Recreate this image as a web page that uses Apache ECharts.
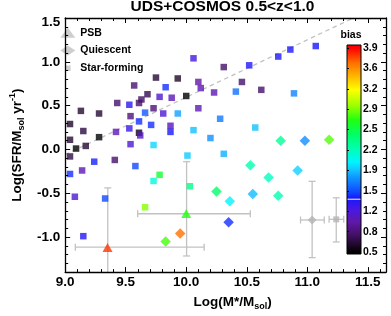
<!DOCTYPE html>
<html><head><meta charset="utf-8">
<script src="https://cdn.jsdelivr.net/npm/echarts@6/dist/echarts.min.js"></script>
<style>html,body{margin:0;padding:0;background:#fff}#c{width:391px;height:316px}</style>
</head><body><div id="c"></div>
<script>
// ---- Star-forming galaxies (squares) ----
const sfX = [10.06,10.31,10.52,10.76,10.86,11.07,9.75,9.93,10.10,10.12,9.83,9.78,9.88,10.00,10.23,10.46,10.41,10.62,10.89,9.57,
  9.68,9.63,9.61,9.43,9.53,9.73,9.66,9.54,9.13,9.28,9.81,9.93,10.10,10.28,9.04,9.15,9.42,9.53,9.61,9.71,
  9.87,9.87,9.61,9.62,10.06,10.20,10.57,9.28,9.04,9.09,9.17,9.54,9.73,10.01,10.31,9.04,9.24,9.41,9.58,9.04,
  9.14,9.78,9.73,10.03,9.08,9.33,9.66,9.15];
const sfY = [1.04,0.94,0.96,1.06,1.14,1.18,0.82,0.81,0.77,0.70,0.71,0.60,0.59,0.61,0.65,0.77,0.66,0.68,0.64,0.73,
  0.63,0.57,0.53,0.53,0.51,0.47,0.42,0.38,0.44,0.41,0.41,0.41,0.47,0.35,0.29,0.21,0.20,0.24,0.32,0.28,
  0.27,0.20,0.19,0.16,0.22,0.13,0.25,0.14,0.11,0.01,0.04,0.06,0.05,-0.07,-0.05,-0.08,-0.14,-0.12,-0.19,-0.28,
  -0.24,-0.29,-0.36,-0.42,-0.54,-0.56,-0.66,-0.99];
const sfBias = [1.22,0.8,1.36,1.36,1.38,1.4,0.65,0.62,1.0,1.05,1.45,1.12,1.05,0.5,1.05,0.8,1.62,0.8,1.68,0.82,
  0.72,0.78,0.8,0.8,1.32,0.85,1.55,0.85,0.65,0.65,1.15,1.78,1.05,1.65,0.62,0.68,1.05,1.28,1.45,1.45,
  1.08,1.4,0.55,1.1,1.86,1.72,1.86,0.52,0.65,0.5,0.65,1.15,1.92,1.88,1.82,0.7,1.42,0.8,1.5,1.45,
  1.05,2.6,2.1,2.35,1.15,1.5,2.9,1.35];
// ---- Quiescent galaxies (diamonds) ----
const qX = [10.78,10.98,11.18,10.53,10.68,10.92,10.25,10.36,10.55,10.76,10.35,9.83,9.95];
const qY = [0.10,0.10,0.11,-0.18,-0.32,-0.24,-0.48,-0.59,-0.51,-0.53,-0.83,-1.05,-0.96];
const qBias = [2.3,1.72,2.8,2.22,2.18,1.9,2.45,2.0,1.85,2.22,1.45,2.78,3.65];
// ---- PSB galaxies (triangles) ----
const psbX = [9.35,10.0];
const psbY = [-1.12,-0.73];
const psbBias = [3.78,2.7];
// ---- typical error bars ----
const errX   = [9.352,10.003,11.04,11.239];
const errY   = [-1.115,-0.734,-0.805,-0.798];
const errXlo = [9.084,9.599,10.944,11.18];
const errXhi = [10.148,10.529,11.14,11.301];
const errYlo = [-1.8,-1.216,-1.235,-1.056];
const errYhi = [-0.439,-0.14,-0.364,-0.552];
const refDiamond = [[11.04,-0.805]];
const refSquare  = [[11.239,-0.798]];
// ---- dashed relation ----
const msX = [9.0,11.38];
const msY = [-0.06,1.5];
// ---- ticks ----
const xMajor = [9.0,9.5,10.0,10.5,11.0,11.5];
const xMinor = [9.1,9.2,9.3,9.4,9.6,9.7,9.8,9.9,10.1,10.2,10.3,10.4,10.6,10.7,10.8,10.9,11.1,11.2,11.3,11.4,11.6];
const yMajor = [-1.0,-0.5,0.0,0.5,1.0,1.5];
const yMinor = [-1.4,-1.3,-1.2,-1.1,-0.9,-0.8,-0.7,-0.6,-0.4,-0.3,-0.2,-0.1,0.1,0.2,0.3,0.4,0.6,0.7,0.8,0.9,1.1,1.2,1.3,1.4];
const cbTicks = [0.5,0.84,1.18,1.52,1.86,2.2,2.54,2.88,3.22,3.56,3.9];
const cbMark = 1.38;
// ---- colormap ----
const cmapV = [0.5,0.65,0.8,1.0,1.2,1.4,1.5,1.62,1.75,1.9,2.0,2.2,2.45,2.7,2.95,3.2,3.45,3.65,3.9];
const cmapC = ['#000000','#250a35','#45106a','#6018a8','#4a18e0','#1818ff','#1048ff','#1070ff','#1098ff','#10d0ff','#00f4ff','#00ffb8','#00ff68','#20ff10','#a0ff00','#ffff00','#ffb000','#ff7000','#ff0000'];

const X_MIN = 9.0, X_MAX = 11.65, Y_MIN = -1.4, Y_MAX = 1.5, CB_MIN = 0.467, CB_MAX = 3.95;
const FF = "'Liberation Sans', Arial, Helvetica, sans-serif";
const GREY = '#c2c2c2';

function hex(c){return [parseInt(c.slice(1,3),16),parseInt(c.slice(3,5),16),parseInt(c.slice(5,7),16)];}
function cmap(v){
  if (v <= cmapV[0]) return cmapC[0];
  for (let i=1;i<cmapV.length;i++){
    if (v <= cmapV[i]){
      const t=(v-cmapV[i-1])/(cmapV[i]-cmapV[i-1]);
      const a=hex(cmapC[i-1]), b=hex(cmapC[i]);
      return 'rgb('+a.map((q,k)=>Math.round(q+(b[k]-q)*t)).join(',')+')';
    }
  }
  return cmapC[cmapC.length-1];
}

const chart = echarts.init(document.getElementById('c'), null, {renderer:'canvas'});
const tickStyle = {color:'#000', width:1};
function frameX(pos, values, len, line, label){
  return {gridIndex:0, type:'value', position:pos, min:X_MIN, max:X_MAX,
    axisLine:{show:line, onZero:false, lineStyle:{color:'#000', width:1.3}},
    axisTick:{show:true, inside:true, length:len, customValues:values, lineStyle:tickStyle},
    axisLabel: label || {show:false}, splitLine:{show:false}, z:6};
}
function frameY(pos, values, len, line, label){
  return {gridIndex:0, type:'value', position:pos, min:Y_MIN, max:Y_MAX,
    axisLine:{show:line, onZero:false, lineStyle:{color:'#000', width:1.3}},
    axisTick:{show:true, inside:true, length:len, customValues:values, lineStyle:tickStyle},
    axisLabel: label || {show:false}, splitLine:{show:false}, z:6};
}
const labStyle = {fontSize:13.5, fontWeight:'bold', color:'#000', fontFamily:FF};
const xb = frameX('bottom', xMajor, 5, true, Object.assign({show:true, customValues:xMajor, formatter:v=>v.toFixed(1), margin:3, lineHeight:15}, labStyle));
xb.name = '{a|Log(M*/M}{s|sol}{a|)}';
xb.nameLocation = 'middle';
xb.nameGap = 19;
xb.nameTextStyle = {padding:[0,0,0,14], rich:{
  a:{fontSize:13.5, fontWeight:'bold', color:'#000', fontFamily:FF, lineHeight:18},
  s:{fontSize:9, fontWeight:'bold', color:'#000', fontFamily:FF, lineHeight:9, verticalAlign:'bottom'}}};
const yl = frameY('left', yMajor, 5, true, Object.assign({show:true, customValues:yMajor, margin:5,
  formatter:v=> (v===1.5 ? '{t|1.5}' : v.toFixed(1)),
  rich:{t:Object.assign({padding:[8,0,0,0]}, labStyle)}}, labStyle));
yl.name = '{a|Log(SFR/M}{s|sol}{a| yr}{p|-1}{a|)}';
yl.nameLocation = 'middle';
yl.nameGap = 36;
yl.nameRotate = 90;
yl.nameTextStyle = {rich:{
  a:{fontSize:13.5, fontWeight:'bold', color:'#000', fontFamily:FF, lineHeight:18},
  s:{fontSize:9, fontWeight:'bold', color:'#000', fontFamily:FF, lineHeight:9, verticalAlign:'bottom'},
  p:{fontSize:9, fontWeight:'bold', color:'#000', fontFamily:FF, lineHeight:9, verticalAlign:'top'}}};

const option = {
  animation:false,
  backgroundColor:'#fff',
  title:{text:'UDS+COSMOS 0.5<z<1.0', left:222.5, textAlign:'center', top:-1.5, padding:0,
    textStyle:{fontSize:15.5, fontWeight:'bold', color:'#000', fontFamily:FF, lineHeight:16}},
  legend:{left:60.3, top:26.8, orient:'vertical', padding:0, itemGap:5.7, itemWidth:15, itemHeight:10,
    selectedMode:false,
    textStyle:{fontSize:10.5, fontWeight:'bold', color:'#000', fontFamily:FF, lineHeight:12},
    data:[
      {name:'PSB', icon:'triangle', itemStyle:{color:GREY}},
      {name:'Quiescent', icon:'diamond', itemStyle:{color:GREY}},
      {name:'Star-forming', icon:'path://M0,0h0.01v0.01h-0.01z M2.2,2.2h5.6v5.6h-5.6z M9.99,9.99h0.01v0.01h-0.01z', itemStyle:{color:GREY}}
    ]},
  grid:[
    {left:55.5, right:5, top:18, bottom:40},
    {left:347, top:45, width:14, height:209, show:true, borderColor:'#000', borderWidth:1, backgroundColor:'rgba(0,0,0,0)', z:10}
  ],
  xAxis:[
    xb,
    frameX('bottom', xMinor, 3, false),
    frameX('top', xMajor, 5, true),
    frameX('top', xMinor, 3, false),
    {gridIndex:1, type:'value', min:0, max:1, position:'top', axisLine:{show:false}, axisTick:{show:false},
      axisLabel:{show:false}, splitLine:{show:false}, name:'bias', nameLocation:'middle', nameGap:4,
      nameTextStyle:{fontSize:10.5, fontWeight:'bold', color:'#000', fontFamily:FF, padding:[0,6,0,0]}}
  ],
  yAxis:[
    yl,
    frameY('left', yMinor, 3, false),
    frameY('right', yMajor, 5, true),
    frameY('right', yMinor, 3, false),
    {gridIndex:1, type:'value', min:CB_MIN, max:CB_MAX, position:'right', axisLine:{show:false},
      axisTick:{show:true, inside:false, length:2, customValues:cbTicks, lineStyle:tickStyle},
      axisLabel:{show:true, customValues:cbTicks, formatter:v=>v.toFixed(1), fontSize:10.5, fontWeight:'bold', color:'#000', fontFamily:FF, margin:2},
      splitLine:{show:false}, z:11}
  ],
  series:[
    {type:'line', name:'relation', xAxisIndex:0, yAxisIndex:0, data:msX.map((x,i)=>[x,msY[i]]),
      symbol:'none', silent:true, z:2, lineStyle:{color:GREY, width:1.3, type:[4.5,3.5]}},
    {type:'custom', name:'err', xAxisIndex:0, yAxisIndex:0, clip:true, silent:true, z:2,
      data:errX.map((x,i)=>[x,errY[i],errXlo[i],errXhi[i],errYlo[i],errYhi[i]]),
      renderItem:function(params, api){
        const x=api.value(0), y=api.value(1);
        const L=api.coord([api.value(2),y]), R=api.coord([api.value(3),y]);
        const B=api.coord([x,api.value(4)]), T=api.coord([x,api.value(5)]);
        const cap=3.5, st={stroke:GREY, lineWidth:1.3};
        const ln=(x1,y1,x2,y2)=>({type:'line', shape:{x1,y1,x2,y2}, style:st});
        return {type:'group', children:[
          ln(L[0],L[1],R[0],R[1]), ln(L[0],L[1]-cap,L[0],L[1]+cap), ln(R[0],R[1]-cap,R[0],R[1]+cap),
          ln(B[0],B[1],T[0],T[1]), ln(B[0]-cap,B[1],B[0]+cap,B[1]), ln(T[0]-cap,T[1],T[0]+cap,T[1])
        ]};
      }},
    {type:'scatter', name:'refD', xAxisIndex:0, yAxisIndex:0, data:refDiamond, symbol:'diamond', symbolSize:9, silent:true, z:3, itemStyle:{color:'#b4b4b4'}},
    {type:'scatter', name:'refS', xAxisIndex:0, yAxisIndex:0, data:refSquare, symbol:'rect', symbolSize:6, silent:true, z:3, itemStyle:{color:'#b4b4b4'}},
    {type:'scatter', name:'Star-forming', xAxisIndex:0, yAxisIndex:0, symbol:'rect', symbolSize:6.5, z:4,
      data:sfX.map((x,i)=>({value:[x,sfY[i]], itemStyle:{color:cmap(sfBias[i])}}))},
    {type:'scatter', name:'Quiescent', xAxisIndex:0, yAxisIndex:0, symbol:'diamond', symbolSize:10.5, z:4,
      data:qX.map((x,i)=>({value:[x,qY[i]], itemStyle:{color:cmap(qBias[i])}}))},
    {type:'scatter', name:'PSB', xAxisIndex:0, yAxisIndex:0, symbol:'triangle', symbolSize:[10,9], z:5,
      data:psbX.map((x,i)=>({value:[x,psbY[i]], itemStyle:{color:cmap(psbBias[i])}}))},
    {type:'custom', name:'colorbar', xAxisIndex:4, yAxisIndex:4, silent:true, z:2,
      data:[[CB_MIN, CB_MAX]],
      renderItem:function(params, api){
        const lo=api.value(0), hi=api.value(1);
        const p0=api.coord([0,lo]), p1=api.coord([1,hi]), m=api.coord([0,cbMark]);
        const stops=cmapV.map((v,i)=>({offset:Math.min(1,Math.max(0,(v-lo)/(hi-lo))), color:cmapC[i]}));
        return {type:'group', children:[
          {type:'rect', shape:{x:p0[0], y:p1[1], width:p1[0]-p0[0], height:p0[1]-p1[1]},
            style:{fill:new echarts.graphic.LinearGradient(0,1,0,0,stops)}},
          {type:'line', shape:{x1:p0[0], y1:m[1], x2:p1[0], y2:m[1]}, style:{stroke:'#fff', lineWidth:1}}
        ]};
      }}
  ]
};
chart.setOption(option);
</script></body></html>
